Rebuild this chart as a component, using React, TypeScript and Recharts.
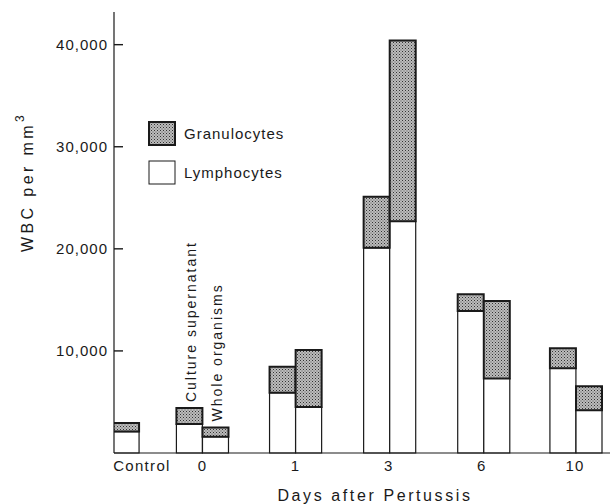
import { BarChart, Bar, XAxis, YAxis, LabelList } from 'recharts';

// one entry per drawn bar
const barDays = ['Control', '0', '0', '1', '1', '3', '3', '6', '6', '10', '10'];
const barPos = [-0.82, -0.14, 0.14, 0.86, 1.14, 1.87, 2.15, 2.88, 3.16, 3.87, 4.15];
const lymphocytes = [2100, 2850, 1600, 5900, 4500, 20100, 22700, 13900, 7300, 8300, 4200];
const granulocytes = [850, 1550, 900, 2550, 5600, 5000, 17700, 1650, 7600, 1950, 2350];
const notes = ['', 'Culture supernatant', 'Whole organisms', '', '', '', '', '', '', '', ''];

const tickPos = [-0.65, 0, 1, 2, 3, 4];
const tickLabels = ['Control', '0', '1', '3', '6', '10'];
const yTicks = [10000, 20000, 30000, 40000];

const data = barPos.map((pos, i) => ({
    pos,
    day: barDays[i],
    lymphocytes: lymphocytes[i],
    granulocytes: granulocytes[i],
    note: notes[i],
}));

const FONT = '"Liberation Sans", Arial, sans-serif';
const INK = '#1a1a1a';

// tick mark drawn inside the plot, label to the left of the axis
// (width = the y axis box width, i.e. where the axis line sits)
const YTick = ({ y, width, payload }: any) => (
    <g>
        <line x1={width} x2={width + 9} y1={y} y2={y} stroke={INK} strokeWidth={1.4} />
        <text x={width - 6} y={y} dy="0.355em" textAnchor="end" fontSize={15} letterSpacing={1} fill={INK} fontFamily={FONT}>
            {Number(payload.value).toLocaleString('en-US')}
        </text>
    </g>
);

const XTick = ({ x, y, payload }: any) => {
    const idx = tickPos.indexOf(payload.value);
    return (
        <text x={x} y={y} dy="0.71em" textAnchor="middle" fontSize={15} letterSpacing={1.3} fill={INK} fontFamily={FONT}>
            {tickLabels[idx] ?? ''}
        </text>
    );
};

const NoteLabel = ({ x, y, width, value }: any) => {
    if (!value) return null;
    const cx = x + width / 2 + 2;
    const by = y - 6;
    return (
        <text
            x={cx}
            y={by}
            transform={`rotate(-90 ${cx} ${by})`}
            textAnchor="start"
            dominantBaseline="central"
            fontSize={14}
            letterSpacing={2}
            fill={INK}
            fontFamily={FONT}
        >
            {value}
        </text>
    );
};

const LegendBox = ({ label, fill }: { label: string; fill: string }) => (
    <div style={{ display: 'flex', alignItems: 'center', height: 25, marginBottom: 14 }}>
        <svg width={29} height={25}>
            <rect x={1} y={1} width={26} height={23} fill={fill} stroke={INK} strokeWidth={fill === '#fff' ? 1 : 2} />
        </svg>
        <span style={{ marginLeft: 7, fontSize: 15, letterSpacing: 1, color: INK, fontFamily: FONT }}>{label}</span>
    </div>
);

export default function App() {
    return (
        <div style={{ position: 'absolute', left: 0, top: 0, width: 610, height: 504, background: '#fff' }}>
            <BarChart width={610} height={504} data={data} margin={{ top: 12, right: 0, bottom: 0, left: 0 }}>
                <defs>
                    <pattern id="stipple" width="3" height="3" patternUnits="userSpaceOnUse">
                        <rect width="3" height="3" fill="#bcbcbc" />
                        <rect x="0" y="0" width="1" height="1" fill="#333" />
                        <rect x="1.5" y="1.5" width="1" height="1" fill="#555" />
                    </pattern>
                </defs>
                <XAxis
                    type="number"
                    dataKey="pos"
                    domain={[-0.95, 4.375]}
                    ticks={tickPos}
                    allowDataOverflow
                    height={51}
                    tickLine={false}
                    tickSize={1}
                    tickMargin={6}
                    tick={<XTick />}
                    axisLine={{ stroke: INK, strokeWidth: 1.2 }}
                    interval={0}
                />
                <YAxis
                    type="number"
                    domain={[0, 43200]}
                    ticks={yTicks}
                    width={114}
                    tickLine={false}
                    tick={<YTick />}
                    axisLine={{ stroke: INK, strokeWidth: 1.2 }}
                    interval={0}
                />
                <Bar
                    dataKey="lymphocytes"
                    name="Lymphocytes"
                    stackId="wbc"
                    barSize={26}
                    fill="#fff"
                    stroke={INK}
                    strokeWidth={1.2}
                    isAnimationActive={false}
                />
                <Bar
                    dataKey="granulocytes"
                    name="Granulocytes"
                    stackId="wbc"
                    barSize={26}
                    fill="url(#stipple)"
                    stroke={INK}
                    strokeWidth={2}
                    isAnimationActive={false}
                >
                    <LabelList dataKey="note" content={<NoteLabel />} />
                </Bar>
                <text
                    x={27}
                    y={182}
                    transform="rotate(-90 27 182)"
                    textAnchor="middle"
                    dominantBaseline="central"
                    fontSize={16}
                    letterSpacing={3.4}
                    fill={INK}
                    fontFamily={FONT}
                >
                    WBC per mm<tspan dy={-7} fontSize={12}>3</tspan>
                </text>
                <text
                    x={375}
                    y={495}
                    textAnchor="middle"
                    dominantBaseline="central"
                    fontSize={16}
                    letterSpacing={2.6}
                    fill={INK}
                    fontFamily={FONT}
                >
                    Days after Pertussis
                </text>
            </BarChart>
            <div style={{ position: 'absolute', left: 148, top: 121 }}>
                <LegendBox label="Granulocytes" fill="url(#stipple)" />
                <LegendBox label="Lymphocytes" fill="#fff" />
            </div>
        </div>
    );
}
